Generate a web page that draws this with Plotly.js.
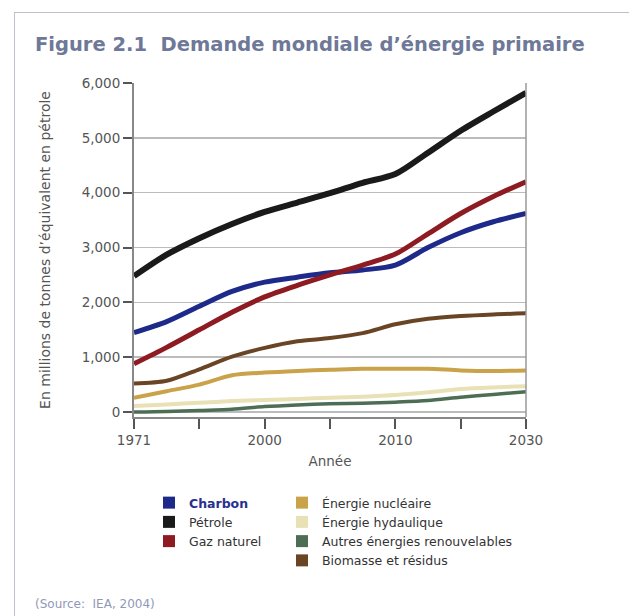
<!DOCTYPE html>
<html>
<head>
<meta charset="utf-8">
<script src="https://cdn.plot.ly/plotly-3.0.1.min.js"></script>
<style>
  html, body { margin: 0; padding: 0; background: #ffffff; overflow: hidden; }
  #wrap { position: relative; width: 629px; height: 616px; }
  #chart { position: absolute; left: 0; top: 0; width: 629px; height: 616px; }
  #frame { position: absolute; left: 14px; top: 12px; width: 700px; height: 700px;
           border: 1.5px solid #bcc0cc; pointer-events: none; }
</style>
</head>
<body>
<div id="wrap">
  <div id="chart"></div>
  <div id="frame"></div>
</div>
<script>
// Positions along the x axis (7 evenly spaced ticks, labelled 1971, 2000, 2010, 2030)
const xPos = [0, 0.5, 1, 1.5, 2, 2.5, 3, 3.5, 4, 4.5, 5, 5.5, 6];
const tickPos = [0, 1, 2, 3, 4, 5, 6];
const tickLabels = ['1971', '', '2000', '', '2010', '', '2030'];
const yTicks = [0, 1000, 2000, 3000, 4000, 5000, 6000];

// Series (millions de tonnes d'équivalent pétrole)
const charbon   = [1450, 1650, 1930, 2200, 2370, 2460, 2540, 2590, 2680, 3000, 3270, 3470, 3620];
const petrole   = [2480, 2870, 3170, 3430, 3650, 3820, 3990, 4180, 4340, 4730, 5130, 5480, 5820];
const gaz       = [880, 1180, 1500, 1820, 2100, 2310, 2500, 2680, 2880, 3250, 3620, 3930, 4200];
const nucleaire = [260, 380, 500, 670, 720, 750, 770, 790, 790, 790, 760, 750, 760];
const hydro     = [110, 140, 170, 200, 220, 240, 260, 280, 310, 360, 420, 450, 470];
const autres    = [0, 10, 30, 50, 100, 130, 150, 160, 180, 210, 270, 320, 370];
const biomasse  = [520, 570, 780, 1010, 1170, 1290, 1350, 1440, 1600, 1700, 1750, 1780, 1800];

const names = {
  charbon: 'Charbon', petrole: 'Pétrole', gaz: 'Gaz naturel',
  nucleaire: 'Énergie nucléaire', hydro: 'Énergie hydaulique',
  autres: 'Autres énergies renouvelables', biomasse: 'Biomasse et résidus'
};
const colors = {
  charbon: '#1d2a8a', petrole: '#1a1a1a', gaz: '#8e1a22',
  nucleaire: '#c9a24a', hydro: '#e9e1b6', autres: '#4d6e55', biomasse: '#6a4525'
};
const widths = { charbon: 5, petrole: 6, gaz: 5, nucleaire: 4, hydro: 4, autres: 3.5, biomasse: 4 };

const series = [
  ['hydro', hydro], ['autres', autres], ['nucleaire', nucleaire], ['biomasse', biomasse],
  ['charbon', charbon], ['gaz', gaz], ['petrole', petrole]
];

const traces = series.map(([k, v]) => ({
  x: xPos, y: v, type: 'scatter', mode: 'lines', name: names[k],
  line: { color: colors[k], width: widths[k], shape: 'spline', smoothing: 0.8 },
  showlegend: false, hoverinfo: 'skip'
}));

// Legend entries (square swatches), two columns
const leg1 = ['charbon', 'petrole', 'gaz'];
const leg2 = ['nucleaire', 'hydro', 'autres', 'biomasse'];
leg1.forEach(k => traces.push({
  x: [null], y: [null], type: 'scatter', mode: 'markers', legend: 'legend',
  name: k === 'charbon' ? '<b><span style="color:#2a3090">Charbon</span></b>' : names[k],
  marker: { symbol: 'square', size: 12, color: colors[k] }
}));
leg2.forEach(k => traces.push({
  x: [null], y: [null], type: 'scatter', mode: 'markers', legend: 'legend2',
  name: names[k],
  marker: { symbol: 'square', size: 12, color: colors[k] }
}));

const L = 134, R = 526, T = 83, B = 417;
const px2x = p => (p - L) / (R - L);
const py2y = p => (B - p) / (B - T);
const FONT = 'DejaVu Sans, Verdana, sans-serif';

const legendBase = {
  font: { family: FONT, size: 12.5, color: '#333' },
  bgcolor: 'rgba(0,0,0,0)', borderwidth: 0, itemsizing: 'trace',
  yanchor: 'top', xanchor: 'left', tracegroupgap: 0
};

const layout = {
  width: 629, height: 616,
  margin: { l: L, r: 629 - R, t: T, b: 616 - B, pad: 0 },
  paper_bgcolor: 'rgba(0,0,0,0)', plot_bgcolor: '#ffffff',
  font: { family: FONT, color: '#444' },
  title: {
    text: '<b>Figure 2.1  Demande mondiale d’énergie primaire</b>',
    font: { size: 19.5, color: '#6e7898', family: FONT },
    x: 35 / 629, xanchor: 'left', xref: 'container',
    y: 1 - 44 / 616, yanchor: 'middle', yref: 'container'
  },
  xaxis: {
    range: [0, 6], tickmode: 'array', tickvals: tickPos, ticktext: tickLabels,
    ticks: 'outside', ticklen: 10, tickwidth: 2, tickcolor: '#555',
    showline: true, linecolor: '#888', linewidth: 2, mirror: false,
    showgrid: false, zeroline: false,
    tickfont: { size: 13.5, color: '#555' },
    title: { text: 'Année', font: { size: 13.5, color: '#555' }, standoff: 9 }
  },
  yaxis: {
    range: [-90, 6000], tickmode: 'array', tickvals: yTicks, tickformat: ',d',
    ticks: 'outside', ticklen: 9, tickwidth: 2, tickcolor: '#555',
    showline: true, linecolor: '#888', linewidth: 2, mirror: false,
    showgrid: true, gridcolor: '#bcbcbc', gridwidth: 1.5, zeroline: false,
    tickfont: { size: 13.5, color: '#555' },
    title: { text: 'En millions de tonnes d’équivalent en pétrole', font: { size: 14, color: '#555' }, standoff: 28 }
  },
  legend: Object.assign({}, legendBase, { x: px2x(149), y: py2y(488) }),
  legend2: Object.assign({}, legendBase, { x: px2x(282), y: py2y(488) }),
  shapes: [
    // right frame line of plot
    { type: 'line', xref: 'paper', yref: 'paper', x0: 1, x1: 1, y0: 0, y1: 1,
      line: { color: '#999', width: 1.5 } }
  ],
  annotations: [
    { text: '(Source:  IEA, 2004)', xref: 'paper', yref: 'paper', x: px2x(33), y: py2y(604),
      xanchor: 'left', yanchor: 'middle', showarrow: false,
      font: { size: 12, color: '#9098b8', family: FONT } }
  ]
};

Plotly.newPlot('chart', traces, layout, { displayModeBar: false, staticPlot: true });
</script>
</body>
</html>
